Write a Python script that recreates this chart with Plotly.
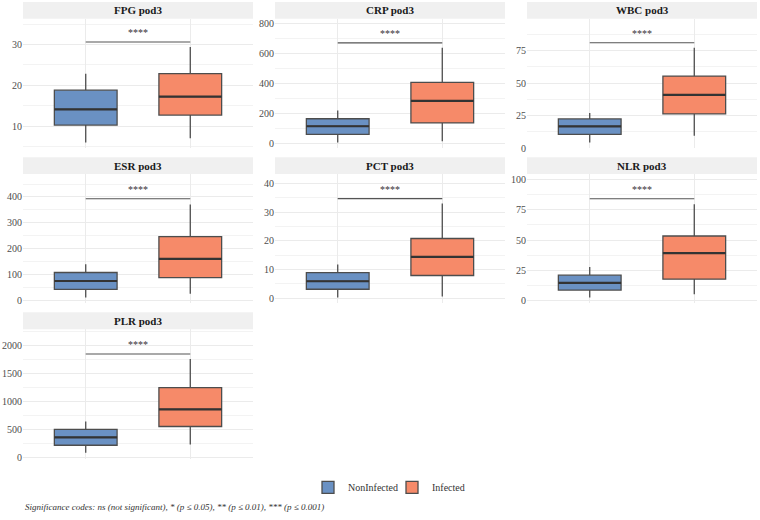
import plotly.graph_objects as go

# ---------------- data ----------------
panels = ["FPG pod3", "CRP pod3", "WBC pod3", "ESR pod3", "PCT pod3", "NLR pod3", "PLR pod3"]
groups = ["NonInfected", "Infected"]

# NonInfected five-number summaries
non_lower = [6.0, 7, 4.5, 11, 0.2, 2.5, 78]
non_q1 = [10.25, 60, 10.6, 43, 3.1, 8.7, 213]
non_median = [14.1, 115, 16.7, 75, 5.9, 14.7, 355]
non_q3 = [18.8, 165, 22.5, 108, 8.9, 21.0, 498]
non_upper = [22.85, 220, 27.0, 140, 11.7, 27.8, 640]

# Infected five-number summaries
inf_lower = [7.0, 15, 9.6, 26, 0.6, 5.2, 225]
inf_q1 = [12.7, 137, 26.3, 88, 7.9, 17.7, 550]
inf_median = [17.2, 285, 40.9, 161, 14.4, 39.2, 858]
inf_q3 = [22.85, 408, 55.3, 247, 20.8, 53.4, 1248]
inf_upper = [29.4, 640, 77.0, 371, 33.0, 79.6, 1762]

# significance bracket heights and labels
bracket_y = [30.6, 673, 80.8, 393, 34.7, 84.2, 1854]
sig_label = ["****"] * 7

# axis limits and tick steps
y_min = [4.56, -32.4, 0.0, -11.8, -1.85, -2.4, -28]
y_max = [36.3, 834, 99.2, 489, 43.3, 104.7, 2300]
tick_step = [10, 200, 25, 100, 10, 25, 500]

caption = "Significance codes: ns (not significant), * (p \u2264 0.05), ** (p \u2264 0.01), *** (p \u2264 0.001)"

# ---------------- style ----------------
W, H = 760, 520
FONT = "Liberation Serif"
fill_colors = ["#6A91C3", "#F68A69"]
outline = "#4d4d4d"
grid = "#EBEBEB"
box_w = 0.6

col_px = [(23, 253), (275, 505), (527, 757)]
row_px = [(19, 150), (176, 307), (333, 464)]
strip_h = 17
legend_ids = ["legend", "legend2"]
legend_left_px = [308, 392]

fig = go.Figure()
layout = dict(
    width=W, height=H, margin=dict(l=0, r=0, t=0, b=0),
    paper_bgcolor="white", plot_bgcolor="white",
    font=dict(family=FONT, color="#4d4d4d"),
    showlegend=True,
)
shapes = []
annotations = []

for i, name in enumerate(panels):
    r, c = divmod(i, 3)
    x0, x1 = col_px[c]
    y0, y1 = row_px[r]
    k = "" if i == 0 else str(i + 1)
    xa, ya = "x" + k, "y" + k
    layout["xaxis" + k] = dict(
        domain=[x0 / W, x1 / W], anchor=ya, range=[-0.6, 1.6],
        tickvals=[0, 1], showticklabels=False, showgrid=True, gridcolor=grid,
        gridwidth=1, zeroline=False, showline=False, ticks="",
    )
    layout["yaxis" + k] = dict(
        domain=[1 - y1 / H, 1 - y0 / H], anchor=xa, range=[y_min[i], y_max[i]],
        tick0=0, dtick=tick_step[i], showgrid=True, gridcolor=grid, gridwidth=1,
        zeroline=False, showline=False, ticks="",
        tickfont=dict(family=FONT, size=10, color="#4d4d4d"),
        minor=dict(dtick=tick_step[i] / 2, tick0=0, showgrid=True, gridcolor="#F3F3F3", gridwidth=0.6),
    )
    stats = [
        (non_lower[i], non_q1[i], non_median[i], non_q3[i], non_upper[i]),
        (inf_lower[i], inf_q1[i], inf_median[i], inf_q3[i], inf_upper[i]),
    ]
    for g, (lo, q1, md, q3, up) in enumerate(stats):
        fig.add_trace(go.Box(
            x=[g], lowerfence=[lo], q1=[q1], median=[md], q3=[q3], upperfence=[up],
            width=box_w, whiskerwidth=0, fillcolor=fill_colors[g],
            line=dict(color=outline, width=1.3), boxpoints=False,
            name=groups[g], legendgroup=groups[g], showlegend=(i == 0),
            legend=legend_ids[g],
            xaxis=xa, yaxis=ya, hoverinfo="skip",
        ))
        fig.add_trace(go.Scatter(
            x=[g - box_w / 2, g + box_w / 2], y=[md, md], mode="lines",
            line=dict(color="#333333", width=2.2), showlegend=False,
            xaxis=xa, yaxis=ya, hoverinfo="skip",
        ))
    # significance bracket
    fig.add_trace(go.Scatter(
        x=[0, 1], y=[bracket_y[i], bracket_y[i]], mode="lines",
        line=dict(color="#555555", width=1.1), showlegend=False,
        xaxis=xa, yaxis=ya, hoverinfo="skip",
    ))
    annotations.append(dict(
        x=0.5, y=bracket_y[i], xref=xa, yref=ya, text=sig_label[i], showarrow=False,
        yanchor="bottom", yshift=2, font=dict(family=FONT, size=10, color="#333333"),
    ))
    # strip
    shapes.append(dict(
        type="rect", xref="paper", yref="paper",
        x0=x0 / W, x1=x1 / W, y0=1 - y0 / H, y1=1 - (y0 - strip_h) / H,
        fillcolor="#F0F0F0", line=dict(width=0), layer="below",
    ))
    annotations.append(dict(
        x=(x0 + x1) / 2 / W, y=1 - (y0 - strip_h / 2) / H, xref="paper", yref="paper",
        text="<b>" + name + "</b>", showarrow=False, xanchor="center", yanchor="middle",
        font=dict(family=FONT, size=11, color="#1a1a1a"),
    ))

annotations.append(dict(
    x=23 / W, y=1 - 513 / H, xref="paper", yref="paper", text="<i>" + caption + "</i>",
    showarrow=False, xanchor="left", yanchor="middle",
    font=dict(family=FONT, size=9, color="#333333"),
))

for lid, lx in zip(legend_ids, legend_left_px):
    layout[lid] = dict(
        orientation="h", x=lx / W, y=1 - 493 / H, xanchor="left", yanchor="middle",
        font=dict(family=FONT, size=10, color="#333333"), bgcolor="rgba(0,0,0,0)",
        itemwidth=30,
    )
layout["shapes"] = shapes
layout["annotations"] = annotations
fig.update_layout(**layout)

fig.write_html("out.html")
